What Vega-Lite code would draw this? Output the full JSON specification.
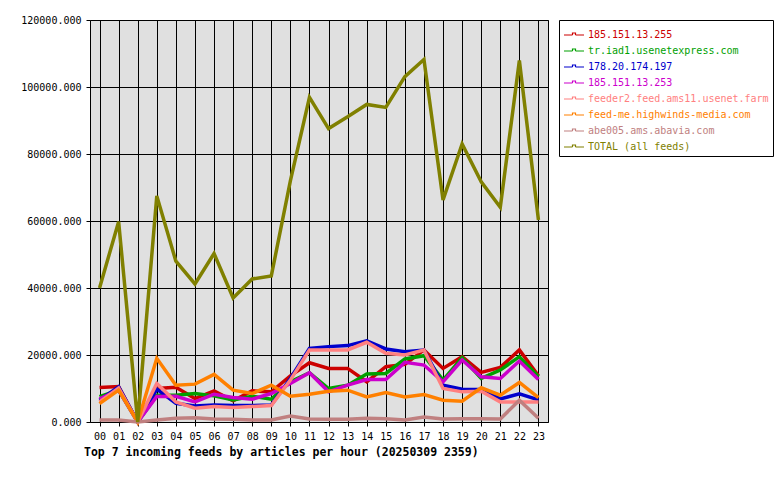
{
  "$schema": "https://vega.github.io/schema/vega-lite/v6.json",
  "width": 458,
  "height": 402,
  "autosize": "none",
  "padding": {"left": 90, "top": 20, "right": 232, "bottom": 58},
  "background": "white",
  "config": {
    "font": "DejaVu Sans Mono",
    "view": {"fill": "#e0e0e0", "stroke": "black", "strokeWidth": 1}
  },
  "title": {
    "text": "Top 7 incoming feeds by articles per hour (20250309 2359)",
    "orient": "bottom",
    "anchor": "start",
    "frame": "group",
    "font": "DejaVu Sans Mono",
    "fontSize": 11.5,
    "fontWeight": "bold",
    "color": "black",
    "offset": 6,
    "dx": -6
  },
  "datasets": {
    "d": [
      {"h":"00","feed":"185.151.13.255","v":10300},{"h":"01","feed":"185.151.13.255","v":10600},{"h":"02","feed":"185.151.13.255","v":0},{"h":"03","feed":"185.151.13.255","v":10000},{"h":"04","feed":"185.151.13.255","v":10400},{"h":"05","feed":"185.151.13.255","v":7000},{"h":"06","feed":"185.151.13.255","v":9300},{"h":"07","feed":"185.151.13.255","v":6300},{"h":"08","feed":"185.151.13.255","v":9300},{"h":"09","feed":"185.151.13.255","v":9000},{"h":"10","feed":"185.151.13.255","v":13800},{"h":"11","feed":"185.151.13.255","v":17700},{"h":"12","feed":"185.151.13.255","v":16000},{"h":"13","feed":"185.151.13.255","v":16000},{"h":"14","feed":"185.151.13.255","v":12000},{"h":"15","feed":"185.151.13.255","v":16500},{"h":"16","feed":"185.151.13.255","v":17200},{"h":"17","feed":"185.151.13.255","v":21500},{"h":"18","feed":"185.151.13.255","v":16000},{"h":"19","feed":"185.151.13.255","v":19500},{"h":"20","feed":"185.151.13.255","v":14800},{"h":"21","feed":"185.151.13.255","v":16300},{"h":"22","feed":"185.151.13.255","v":21500},{"h":"23","feed":"185.151.13.255","v":13800},
      {"h":"00","feed":"tr.iad1.usenetexpress.com","v":7600},{"h":"01","feed":"tr.iad1.usenetexpress.com","v":9500},{"h":"02","feed":"tr.iad1.usenetexpress.com","v":0},{"h":"03","feed":"tr.iad1.usenetexpress.com","v":8000},{"h":"04","feed":"tr.iad1.usenetexpress.com","v":8000},{"h":"05","feed":"tr.iad1.usenetexpress.com","v":8500},{"h":"06","feed":"tr.iad1.usenetexpress.com","v":7800},{"h":"07","feed":"tr.iad1.usenetexpress.com","v":6600},{"h":"08","feed":"tr.iad1.usenetexpress.com","v":7700},{"h":"09","feed":"tr.iad1.usenetexpress.com","v":6800},{"h":"10","feed":"tr.iad1.usenetexpress.com","v":12000},{"h":"11","feed":"tr.iad1.usenetexpress.com","v":14700},{"h":"12","feed":"tr.iad1.usenetexpress.com","v":10000},{"h":"13","feed":"tr.iad1.usenetexpress.com","v":11000},{"h":"14","feed":"tr.iad1.usenetexpress.com","v":14300},{"h":"15","feed":"tr.iad1.usenetexpress.com","v":14500},{"h":"16","feed":"tr.iad1.usenetexpress.com","v":18800},{"h":"17","feed":"tr.iad1.usenetexpress.com","v":19800},{"h":"18","feed":"tr.iad1.usenetexpress.com","v":12500},{"h":"19","feed":"tr.iad1.usenetexpress.com","v":19200},{"h":"20","feed":"tr.iad1.usenetexpress.com","v":13000},{"h":"21","feed":"tr.iad1.usenetexpress.com","v":15500},{"h":"22","feed":"tr.iad1.usenetexpress.com","v":19500},{"h":"23","feed":"tr.iad1.usenetexpress.com","v":13500},
      {"h":"00","feed":"178.20.174.197","v":6500},{"h":"01","feed":"178.20.174.197","v":10500},{"h":"02","feed":"178.20.174.197","v":0},{"h":"03","feed":"178.20.174.197","v":9800},{"h":"04","feed":"178.20.174.197","v":5600},{"h":"05","feed":"178.20.174.197","v":4800},{"h":"06","feed":"178.20.174.197","v":5100},{"h":"07","feed":"178.20.174.197","v":4900},{"h":"08","feed":"178.20.174.197","v":4900},{"h":"09","feed":"178.20.174.197","v":5100},{"h":"10","feed":"178.20.174.197","v":13000},{"h":"11","feed":"178.20.174.197","v":22000},{"h":"12","feed":"178.20.174.197","v":22500},{"h":"13","feed":"178.20.174.197","v":22800},{"h":"14","feed":"178.20.174.197","v":24200},{"h":"15","feed":"178.20.174.197","v":21800},{"h":"16","feed":"178.20.174.197","v":21000},{"h":"17","feed":"178.20.174.197","v":21500},{"h":"18","feed":"178.20.174.197","v":11000},{"h":"19","feed":"178.20.174.197","v":9800},{"h":"20","feed":"178.20.174.197","v":9700},{"h":"21","feed":"178.20.174.197","v":6900},{"h":"22","feed":"178.20.174.197","v":8400},{"h":"23","feed":"178.20.174.197","v":6600},
      {"h":"00","feed":"185.151.13.253","v":6900},{"h":"01","feed":"185.151.13.253","v":9500},{"h":"02","feed":"185.151.13.253","v":0},{"h":"03","feed":"185.151.13.253","v":7600},{"h":"04","feed":"185.151.13.253","v":7700},{"h":"05","feed":"185.151.13.253","v":6000},{"h":"06","feed":"185.151.13.253","v":8300},{"h":"07","feed":"185.151.13.253","v":7300},{"h":"08","feed":"185.151.13.253","v":6800},{"h":"09","feed":"185.151.13.253","v":8500},{"h":"10","feed":"185.151.13.253","v":11500},{"h":"11","feed":"185.151.13.253","v":14700},{"h":"12","feed":"185.151.13.253","v":9000},{"h":"13","feed":"185.151.13.253","v":11000},{"h":"14","feed":"185.151.13.253","v":12700},{"h":"15","feed":"185.151.13.253","v":12700},{"h":"16","feed":"185.151.13.253","v":17800},{"h":"17","feed":"185.151.13.253","v":17000},{"h":"18","feed":"185.151.13.253","v":12000},{"h":"19","feed":"185.151.13.253","v":18500},{"h":"20","feed":"185.151.13.253","v":13500},{"h":"21","feed":"185.151.13.253","v":13000},{"h":"22","feed":"185.151.13.253","v":18200},{"h":"23","feed":"185.151.13.253","v":12700},
      {"h":"00","feed":"feeder2.feed.ams11.usenet.farm","v":6000},{"h":"01","feed":"feeder2.feed.ams11.usenet.farm","v":10100},{"h":"02","feed":"feeder2.feed.ams11.usenet.farm","v":0},{"h":"03","feed":"feeder2.feed.ams11.usenet.farm","v":11500},{"h":"04","feed":"feeder2.feed.ams11.usenet.farm","v":6000},{"h":"05","feed":"feeder2.feed.ams11.usenet.farm","v":4100},{"h":"06","feed":"feeder2.feed.ams11.usenet.farm","v":4600},{"h":"07","feed":"feeder2.feed.ams11.usenet.farm","v":4300},{"h":"08","feed":"feeder2.feed.ams11.usenet.farm","v":4600},{"h":"09","feed":"feeder2.feed.ams11.usenet.farm","v":4900},{"h":"10","feed":"feeder2.feed.ams11.usenet.farm","v":12500},{"h":"11","feed":"feeder2.feed.ams11.usenet.farm","v":21500},{"h":"12","feed":"feeder2.feed.ams11.usenet.farm","v":21500},{"h":"13","feed":"feeder2.feed.ams11.usenet.farm","v":21500},{"h":"14","feed":"feeder2.feed.ams11.usenet.farm","v":23800},{"h":"15","feed":"feeder2.feed.ams11.usenet.farm","v":20500},{"h":"16","feed":"feeder2.feed.ams11.usenet.farm","v":20000},{"h":"17","feed":"feeder2.feed.ams11.usenet.farm","v":21500},{"h":"18","feed":"feeder2.feed.ams11.usenet.farm","v":10000},{"h":"19","feed":"feeder2.feed.ams11.usenet.farm","v":9000},{"h":"20","feed":"feeder2.feed.ams11.usenet.farm","v":9200},{"h":"21","feed":"feeder2.feed.ams11.usenet.farm","v":6000},{"h":"22","feed":"feeder2.feed.ams11.usenet.farm","v":6000},{"h":"23","feed":"feeder2.feed.ams11.usenet.farm","v":6000},
      {"h":"00","feed":"feed-me.highwinds-media.com","v":5500},{"h":"01","feed":"feed-me.highwinds-media.com","v":9500},{"h":"02","feed":"feed-me.highwinds-media.com","v":0},{"h":"03","feed":"feed-me.highwinds-media.com","v":19000},{"h":"04","feed":"feed-me.highwinds-media.com","v":11000},{"h":"05","feed":"feed-me.highwinds-media.com","v":11300},{"h":"06","feed":"feed-me.highwinds-media.com","v":14200},{"h":"07","feed":"feed-me.highwinds-media.com","v":9500},{"h":"08","feed":"feed-me.highwinds-media.com","v":8500},{"h":"09","feed":"feed-me.highwinds-media.com","v":11000},{"h":"10","feed":"feed-me.highwinds-media.com","v":7700},{"h":"11","feed":"feed-me.highwinds-media.com","v":8300},{"h":"12","feed":"feed-me.highwinds-media.com","v":9200},{"h":"13","feed":"feed-me.highwinds-media.com","v":9500},{"h":"14","feed":"feed-me.highwinds-media.com","v":7500},{"h":"15","feed":"feed-me.highwinds-media.com","v":8800},{"h":"16","feed":"feed-me.highwinds-media.com","v":7500},{"h":"17","feed":"feed-me.highwinds-media.com","v":8200},{"h":"18","feed":"feed-me.highwinds-media.com","v":6500},{"h":"19","feed":"feed-me.highwinds-media.com","v":6200},{"h":"20","feed":"feed-me.highwinds-media.com","v":10200},{"h":"21","feed":"feed-me.highwinds-media.com","v":8000},{"h":"22","feed":"feed-me.highwinds-media.com","v":11800},{"h":"23","feed":"feed-me.highwinds-media.com","v":7300},
      {"h":"00","feed":"abe005.ams.abavia.com","v":600},{"h":"01","feed":"abe005.ams.abavia.com","v":600},{"h":"02","feed":"abe005.ams.abavia.com","v":0},{"h":"03","feed":"abe005.ams.abavia.com","v":600},{"h":"04","feed":"abe005.ams.abavia.com","v":1100},{"h":"05","feed":"abe005.ams.abavia.com","v":1300},{"h":"06","feed":"abe005.ams.abavia.com","v":900},{"h":"07","feed":"abe005.ams.abavia.com","v":800},{"h":"08","feed":"abe005.ams.abavia.com","v":600},{"h":"09","feed":"abe005.ams.abavia.com","v":600},{"h":"10","feed":"abe005.ams.abavia.com","v":1800},{"h":"11","feed":"abe005.ams.abavia.com","v":900},{"h":"12","feed":"abe005.ams.abavia.com","v":800},{"h":"13","feed":"abe005.ams.abavia.com","v":800},{"h":"14","feed":"abe005.ams.abavia.com","v":1100},{"h":"15","feed":"abe005.ams.abavia.com","v":1000},{"h":"16","feed":"abe005.ams.abavia.com","v":600},{"h":"17","feed":"abe005.ams.abavia.com","v":1500},{"h":"18","feed":"abe005.ams.abavia.com","v":900},{"h":"19","feed":"abe005.ams.abavia.com","v":1000},{"h":"20","feed":"abe005.ams.abavia.com","v":1000},{"h":"21","feed":"abe005.ams.abavia.com","v":900},{"h":"22","feed":"abe005.ams.abavia.com","v":6500},{"h":"23","feed":"abe005.ams.abavia.com","v":1100},
      {"h":"00","feed":"TOTAL (all feeds)","v":40000},{"h":"01","feed":"TOTAL (all feeds)","v":59800},{"h":"02","feed":"TOTAL (all feeds)","v":0},{"h":"03","feed":"TOTAL (all feeds)","v":67500},{"h":"04","feed":"TOTAL (all feeds)","v":48000},{"h":"05","feed":"TOTAL (all feeds)","v":41200},{"h":"06","feed":"TOTAL (all feeds)","v":50300},{"h":"07","feed":"TOTAL (all feeds)","v":37000},{"h":"08","feed":"TOTAL (all feeds)","v":42700},{"h":"09","feed":"TOTAL (all feeds)","v":43600},{"h":"10","feed":"TOTAL (all feeds)","v":72000},{"h":"11","feed":"TOTAL (all feeds)","v":96900},{"h":"12","feed":"TOTAL (all feeds)","v":87600},{"h":"13","feed":"TOTAL (all feeds)","v":91100},{"h":"14","feed":"TOTAL (all feeds)","v":94800},{"h":"15","feed":"TOTAL (all feeds)","v":93900},{"h":"16","feed":"TOTAL (all feeds)","v":103100},{"h":"17","feed":"TOTAL (all feeds)","v":108200},{"h":"18","feed":"TOTAL (all feeds)","v":66300},{"h":"19","feed":"TOTAL (all feeds)","v":83000},{"h":"20","feed":"TOTAL (all feeds)","v":71700},{"h":"21","feed":"TOTAL (all feeds)","v":64100},{"h":"22","feed":"TOTAL (all feeds)","v":107900},{"h":"23","feed":"TOTAL (all feeds)","v":60300}
    ]
  },
  "data": {"name": "d"},
  "mark": {"type": "line", "strokeWidth": 3.5, "strokeJoin": "miter", "strokeCap": "butt"},
  "encoding": {
    "x": {
      "field": "h",
      "type": "ordinal",
      "scale": {"type": "point", "padding": 0.5},
      "axis": {
        "title": null,
        "labelAngle": 0,
        "grid": true,
        "gridColor": "black",
        "gridOpacity": 1,
        "gridWidth": 1,
        "domain": false,
        "tickColor": "black",
        "tickSize": 4,
        "labelFontSize": 10,
        "labelFont": "DejaVu Sans Mono",
        "labelColor": "black",
        "labelPadding": 5
      }
    },
    "y": {
      "field": "v",
      "type": "quantitative",
      "scale": {"domain": [0, 120000], "nice": false},
      "axis": {
        "title": null,
        "values": [0, 20000, 40000, 60000, 80000, 100000, 120000],
        "format": ".3f",
        "grid": true,
        "gridColor": "black",
        "gridOpacity": 1,
        "gridWidth": 1,
        "domain": false,
        "tickColor": "black",
        "tickSize": 4,
        "labelFontSize": 10,
        "labelFont": "DejaVu Sans Mono",
        "labelColor": "black",
        "labelPadding": 5
      }
    },
    "color": {
      "field": "feed",
      "type": "nominal",
      "scale": {
        "domain": ["185.151.13.255", "tr.iad1.usenetexpress.com", "178.20.174.197", "185.151.13.253", "feeder2.feed.ams11.usenet.farm", "feed-me.highwinds-media.com", "abe005.ams.abavia.com", "TOTAL (all feeds)"],
        "range": ["#cc0000", "#00a000", "#0000cc", "#cc00cc", "#ff8080", "#ff8000", "#c08080", "#808000"]
      },
      "legend": {
        "title": null,
        "orient": "right",
        "offset": 11,
        "fillColor": "white",
        "strokeColor": "black",
        "padding": 4,
        "labelFontSize": 10,
        "labelFont": "DejaVu Sans Mono",
        "labelOffset": 3,
        "labelLimit": 300,
        "symbolType": "M-1,0L-0.15,0M0.15,0L1,0M-0.15,0L-0.15,-0.2L0.15,-0.2L0.15,0",
        "symbolSize": 400,
        "symbolStrokeWidth": 1.2,
        "symbolFillColor": "transparent",
        "rowPadding": -1,
        "encode": {
          "labels": {"update": {"fill": {"scale": "color", "field": "value"}}}
        }
      }
    }
  }
}
